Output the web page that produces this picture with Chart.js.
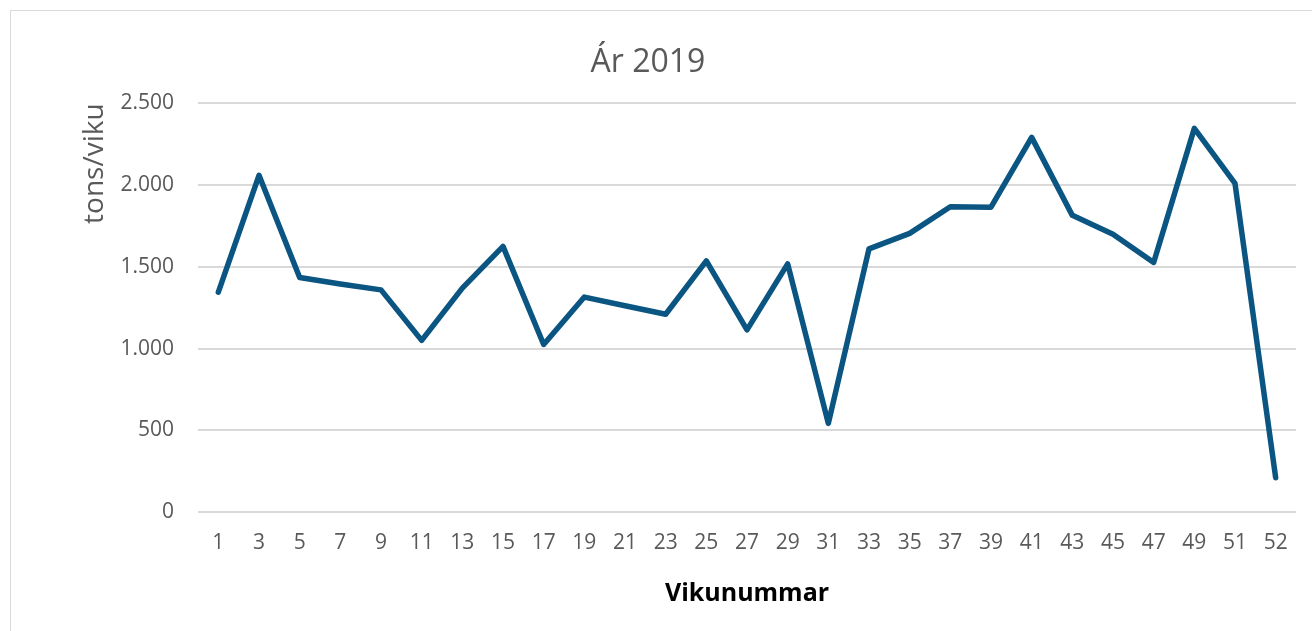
<!DOCTYPE html>
<html>
<head>
<meta charset="utf-8">
<script src="https://cdn.jsdelivr.net/npm/chart.js@4.4.1/dist/chart.umd.min.js"></script>
<style>
html,body{margin:0;padding:0;background:#ffffff;overflow:hidden;}
#wrap{position:relative;width:1312px;height:631px;overflow:hidden;}
#frame{position:absolute;left:10px;top:10px;width:1400px;height:700px;border:1px solid #d9d9d9;box-sizing:border-box;pointer-events:none;}
canvas{position:absolute;left:0;top:0;}
</style>
</head>
<body>
<div id="wrap">
<canvas id="c" width="1312" height="631"></canvas>
<div id="frame"></div>
</div>
<script>
// ---- data ----
const weeks = ['1','3','5','7','9','11','13','15','17','19','21','23','25','27','29','31','33','35','37','39','41','43','45','47','49','51','52'];
const tonsPerWeek = [1345,2060,1435,1395,1359,1050,1370,1625,1025,1315,1262,1210,1536,1114,1518,542,1610,1705,1868,1865,2292,1815,1700,1527,2347,2011,210];
const yTickValues = [0,500,1000,1500,2000,2500];
const chartTitle = 'Ár 2019';
const yAxisTitle = 'tons/viku';
const xAxisTitle = 'Vikunummar';

const FONT = '"Open Sans", "Noto Sans", sans-serif';
const GREY = '#595959';

function fmtThousands(v){
  return String(v).replace(/\B(?=(\d{3})+(?!\d))/g, '.');
}

new Chart(document.getElementById('c'), {
  type: 'line',
  data: {
    labels: weeks,
    datasets: [{
      label: chartTitle,
      data: tonsPerWeek,
      borderColor: '#0B5583',
      borderWidth: 5.5,
      borderJoinStyle: 'round',
      borderCapStyle: 'round',
      pointRadius: 0,
      pointHoverRadius: 0,
      tension: 0,
      fill: false
    }]
  },
  options: {
    responsive: false,
    animation: false,
    events: [],
    layout: { padding: { left: 0, right: 16, top: 0, bottom: 0 } },
    plugins: {
      legend: { display: false },
      tooltip: { enabled: false },
      title: {
        display: true,
        text: chartTitle,
        color: GREY,
        font: { family: FONT, size: 32, weight: 'normal' },
        padding: { top: 44, bottom: 21 }
      }
    },
    scales: {
      x: {
        offset: true,
        grid: { display: false, drawTicks: false },
        border: { display: false },
        ticks: {
          autoSkip: false,
          maxRotation: 0,
          minRotation: 0,
          padding: 18,
          color: GREY,
          font: { family: FONT, size: 21 }
        },
        title: {
          display: true,
          text: xAxisTitle,
          color: '#000000',
          font: { family: FONT, size: 25, weight: 'bold' },
          padding: { top: 0, bottom: 22 }
        },
        afterFit: (s) => { s.height = 119; }
      },
      y: {
        min: 0,
        max: 2500,
        grid: { color: '#d9d9d9', lineWidth: 2, drawTicks: false },
        border: { display: false },
        afterBuildTicks: (s) => { s.ticks = yTickValues.map(v => ({ value: v })); },
        ticks: {
          padding: 24,
          color: GREY,
          font: { family: FONT, size: 21 },
          callback: (v) => fmtThousands(v)
        },
        title: {
          display: true,
          text: yAxisTitle,
          align: 'end',
          color: GREY,
          font: { family: FONT, size: 28, weight: 'normal' },
          padding: { top: 78, bottom: 0 }
        },
        afterFit: (s) => { s.width = 198; }
      }
    }
  }
});
</script>
</body>
</html>
